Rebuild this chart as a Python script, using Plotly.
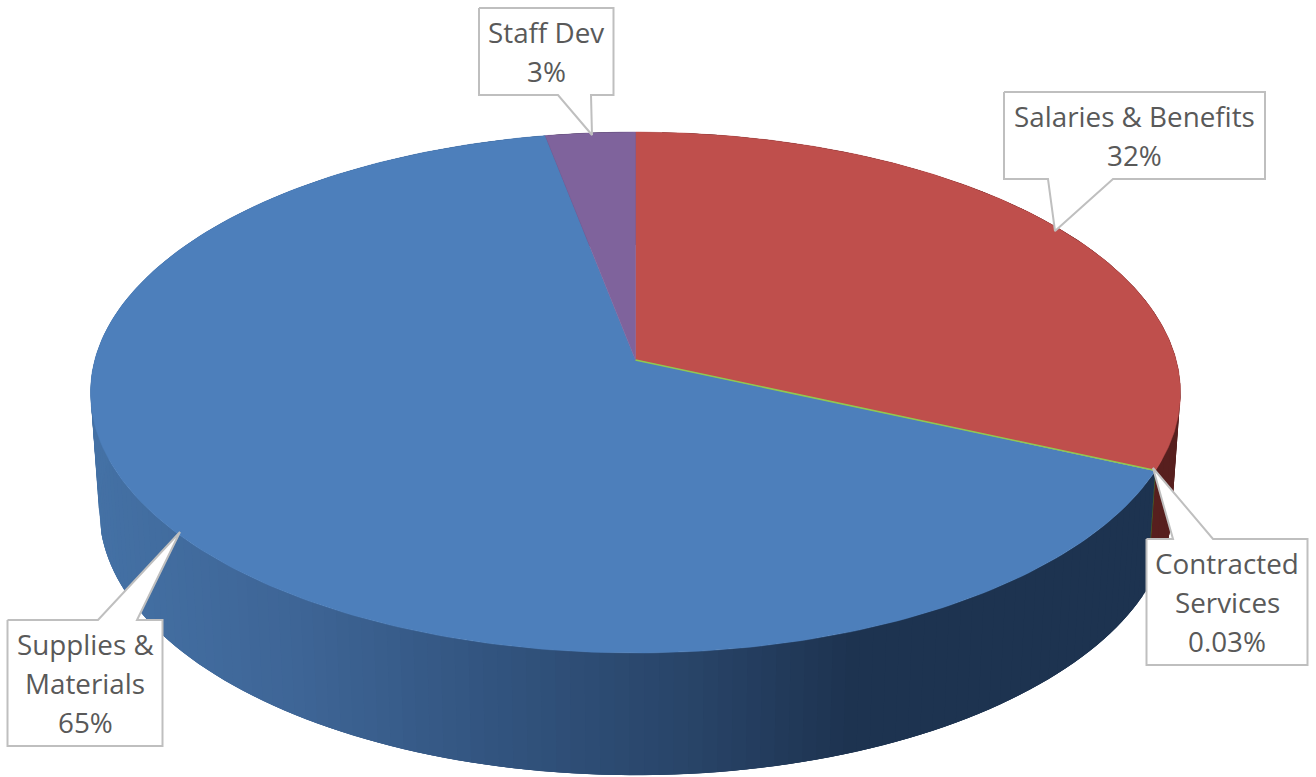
import numpy as np
import plotly.graph_objects as go

# Data
categories = ["Salaries & Benefits", "Contracted Services", "Supplies & Materials", "Staff Dev"]
values = [31.7, 0.03, 65.27, 3.0]
percent_labels = ["32%", "0.03%", "65%", "3%"]
top_colors = ["#BF4F4C", "#92C84F", "#4D7FBB", "#7F639C"]
wall_colors = ["#571F1E", "#4A5F22", None, "#3A2C48"]

# Projection of the tilted disc on to the page
W, H = 1316, 777
CX = 635.5
TOP = dict(cy=360.0, a=540.7, b=256.4, k=0.1248)
LOW = dict(cy=477.0, a=532.0, b=261.0, k=0.1248)


def project(theta, p):
    u, v = np.sin(theta), np.cos(theta)
    d = 1 + p["k"] * v
    return CX + p["a"] * u / d, p["cy"] - p["b"] * v / d


# Shading of the blue wall, by page x
wall_stop_x = [90, 300, 500, 700, 860, 1200]
wall_stop_rgb = [(68, 113, 165), (62, 101, 150), (50, 84, 127), (40, 68, 104), (29, 51, 80), (29, 51, 80)]


def wall_shade(x):
    c = [np.interp(x, wall_stop_x, [s[i] for s in wall_stop_rgb]) for i in range(3)]
    return "rgb(%d,%d,%d)" % tuple(int(round(q)) for q in c)


fig = go.Figure()


def add_poly(xs, ys, color, lw=1.0, line_color=None):
    fig.add_trace(go.Scatter(
        x=list(xs), y=list(ys), mode="lines", fill="toself", fillcolor=color,
        line=dict(color=line_color or color, width=lw), hoverinfo="skip", showlegend=False,
    ))


# Slice boundaries, clockwise from twelve o'clock
edges = 2 * np.pi * np.cumsum([0] + values) / sum(values)

# Walls: short overlapping bands, so that the outline is the true silhouette
# of the two rims and no seam shows between neighbours
for i, name in enumerate(categories):
    t0, t1 = edges[i], edges[i + 1]
    n = 170 if wall_colors[i] is None else (36 if values[i] > 1 else 1)
    ts = np.linspace(t0, t1, n + 1)
    for j in range(n):
        seg = ts[j:min(j + 4, n + 1)]
        xa, ya = project(seg, TOP)
        xb, yb = project(seg[::-1], LOW)
        if wall_colors[i] is None:
            color = wall_shade(project(ts[j], TOP)[0])
            lw = 0
        else:
            color = wall_colors[i]
            lw = 1.3 if n == 1 else 0
        add_poly(np.r_[xa, xb], np.r_[ya, yb], color, lw=lw)

# Top face, the tiny green slice goes last so that it shows as a hairline
for i in [0, 2, 3, 1]:
    ts = np.linspace(edges[i], edges[i + 1], 240)
    xa, ya = project(ts, TOP)
    add_poly(np.r_[CX, xa, CX], np.r_[TOP["cy"], ya, TOP["cy"]], top_colors[i], lw=1.6 if i == 1 else 0.5)

# Callout boxes: x0, y0, x1, y1, pointer base a, tip x, tip y, pointer base b
callouts = {
    "Salaries & Benefits": (1004, 92, 1265, 179, 1048, 1055, 231, 1113, "bottom"),
    "Contracted Services": (1146.5, 539, 1307.5, 665, 1173, 1153, 468, 1213, "top"),
    "Supplies & Materials": (7.5, 620, 162.5, 746, 98, 180, 532, 137, "top"),
    "Staff Dev": (479, 8, 613.5, 95, 558, 592, 135, 591, "bottom"),
}
label_lines = {
    "Salaries & Benefits": ["Salaries & Benefits"],
    "Contracted Services": ["Contracted", "Services"],
    "Supplies & Materials": ["Supplies &", "Materials"],
    "Staff Dev": ["Staff Dev"],
}
annotations = []
LINE_H = 39
for name, pct in zip(categories, percent_labels):
    x0, y0, x1, y1, pa, tx, ty, pb, side = callouts[name]
    if side == "bottom":
        pts = [(x0, y0), (x1, y0), (x1, y1), (pb, y1), (tx, ty), (pa, y1), (x0, y1), (x0, y0)]
    else:
        pts = [(x0, y0), (pa, y0), (tx, ty), (pb, y0), (x1, y0), (x1, y1), (x0, y1), (x0, y0)]
    fig.add_trace(go.Scatter(
        x=[p[0] for p in pts], y=[p[1] for p in pts], mode="lines", fill="toself",
        fillcolor="#FFFFFF", line=dict(color="#BFBFBF", width=2), hoverinfo="skip", showlegend=False,
    ))
    lines = label_lines[name] + [pct]
    ymid = (y0 + y1) / 2
    for n, text in enumerate(lines):
        annotations.append(dict(
            x=(x0 + x1) / 2, y=ymid + (n - (len(lines) - 1) / 2) * LINE_H, text=text.replace("&", "&amp;"),
            xref="x", yref="y", showarrow=False, xanchor="center", yanchor="middle",
            font=dict(family="Open Sans", size=27.8, color="#595959"),
        ))

fig.update_layout(
    width=W, height=H, margin=dict(l=0, r=0, t=0, b=0), autosize=False,
    paper_bgcolor="#FFFFFF", plot_bgcolor="#FFFFFF", showlegend=False,
    xaxis=dict(range=[0, W], visible=False, fixedrange=True),
    yaxis=dict(range=[H, 0], visible=False, fixedrange=True),
    annotations=annotations,
)

fig.write_html(
    "out.html",
    config={"displayModeBar": False},
    post_script="document.body.style.margin='0';document.body.style.overflow='hidden';",
)
